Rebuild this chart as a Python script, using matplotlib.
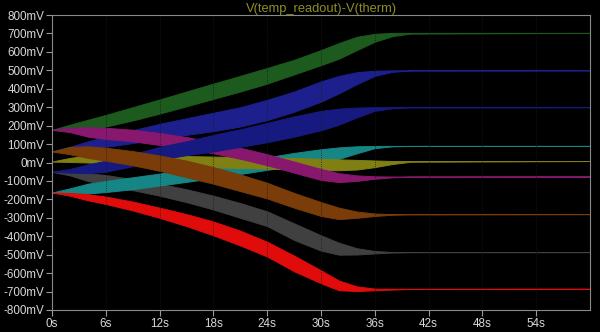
import matplotlib
matplotlib.use("Agg")
import matplotlib.pyplot as plt

# time (s)
T = [0, 2, 4, 6, 9, 12, 15, 18, 21, 24, 27, 30, 32, 34, 36, 38, 40, 60]

# envelopes (mV): upper / lower of each trace
green_hi = [177, 205, 232, 258, 300, 342, 385, 428, 470, 513, 557, 610, 648, 682, 698, 703, 703, 703]
green_lo = [177, 178, 182, 195, 228, 265, 305, 345, 385, 428, 478, 528, 563, 610, 655, 686, 699, 703]

blue_hi = [60, 85, 115, 140, 175, 210, 240, 270, 300, 340, 385, 440, 470, 490, 498, 500, 500, 500]
blue_lo = [60, 62, 75, 85, 105, 130, 150, 170, 195, 230, 275, 330, 375, 425, 470, 492, 499, 500]

blue2_hi = [-50, -35, -10, 10, 45, 85, 115, 150, 180, 215, 250, 280, 292, 298, 300, 300, 300, 300]
blue2_lo = [-50, -55, -58, -50, -20, 15, 40, 60, 85, 110, 140, 175, 205, 245, 280, 295, 299, 300]

magenta_hi = [177, 188, 192, 188, 178, 160, 138, 110, 80, 45, 5, -35, -58, -70, -75, -76, -76, -76]
magenta_lo = [177, 165, 140, 128, 115, 95, 75, 50, 20, -15, -55, -95, -106, -100, -88, -80, -77, -76]

orange_hi = [60, 85, 88, 80, 62, 38, 10, -25, -65, -110, -165, -215, -245, -266, -277, -280, -280, -280]
orange_lo = [60, 45, 25, 10, -15, -45, -80, -115, -155, -195, -245, -290, -307, -300, -290, -283, -281, -280]

yellow_hi = [5, 25, 38, 40, 40, 38, 35, 32, 30, 28, 25, 20, 17, 14, 11, 8, 8, 8]
yellow_lo = [5, 3, 0, -5, -10, -15, -20, -25, -30, -33, -38, -42, -42, -38, -25, -8, 4, 8]

cyan_hi = [-163, -140, -115, -100, -80, -60, -40, -18, 5, 28, 52, 72, 82, 88, 90, 90, 90, 90]
cyan_lo = [-163, -166, -168, -160, -145, -125, -105, -85, -62, -40, -18, 0, 20, 50, 78, 88, 90, 90]

gray_hi = [-50, -52, -58, -68, -90, -115, -145, -180, -220, -265, -330, -395, -435, -465, -480, -486, -486, -486]
gray_lo = [-50, -70, -100, -120, -150, -180, -215, -255, -300, -345, -420, -478, -500, -499, -493, -488, -486, -486]

red_hi = [-163, -165, -172, -185, -212, -245, -280, -320, -370, -430, -505, -585, -640, -672, -684, -685, -685, -685]
red_lo = [-163, -180, -205, -225, -260, -300, -345, -395, -450, -510, -590, -655, -693, -697, -693, -689, -686, -685]

traces = [
    ("blue", blue_hi, blue_lo, "#1c1f8c"),
    ("green", green_hi, green_lo, "#1d5a1d"),
    ("gray", gray_hi, gray_lo, "#404040"),
    ("cyan", cyan_hi, cyan_lo, "#168585"),
    ("yellow", yellow_hi, yellow_lo, "#7f7f14"),
    ("magenta", magenta_hi, magenta_lo, "#87186e"),
    ("blue2", blue2_hi, blue2_lo, "#161a80"),
    ("orange", orange_hi, orange_lo, "#7a3c08"),
    ("red", red_hi, red_lo, "#e00b0b"),
]

y_ticks = list(range(-800, 801, 100))
y_labels = [f"{v}mV" for v in y_ticks]
x_ticks = list(range(0, 55, 6))
x_labels = [f"{v}s" for v in x_ticks]

plt.rcParams['font.family'] = ['Liberation Sans', 'DejaVu Sans']

fig = plt.figure(figsize=(6.0, 3.32), dpi=100, facecolor="black")
ax = fig.add_axes([52/600, 1 - 310/332, (590-52)/600, (310-15)/332], facecolor="black")

for name, hi, lo, col in traces:
    ax.fill_between(T, lo, hi, color=col, linewidth=0.7, edgecolor=col)

ax.set_xlim(0, 60)
ax.set_ylim(-800, 800)
ax.set_xticks(x_ticks)
ax.set_xticklabels(x_labels)
ax.set_yticks(y_ticks)
ax.set_yticklabels(y_labels)
ax.tick_params(colors="#9a9a9a", labelcolor="#d8d8d8", labelsize=8.4, length=4, width=0.8,
               direction="out", pad=1.5)
for s in ax.spines.values():
    s.set_color("#8a8a8a")
    s.set_linewidth(0.8)
ax.grid(True, axis="x", color="#1a1a1a", linestyle=":", linewidth=0.6)

ax.set_title("V(temp_readout)-V(therm)", color="#8e8e26", fontsize=9.3, pad=2)

fig.savefig("out.png", dpi=100, facecolor="black")
